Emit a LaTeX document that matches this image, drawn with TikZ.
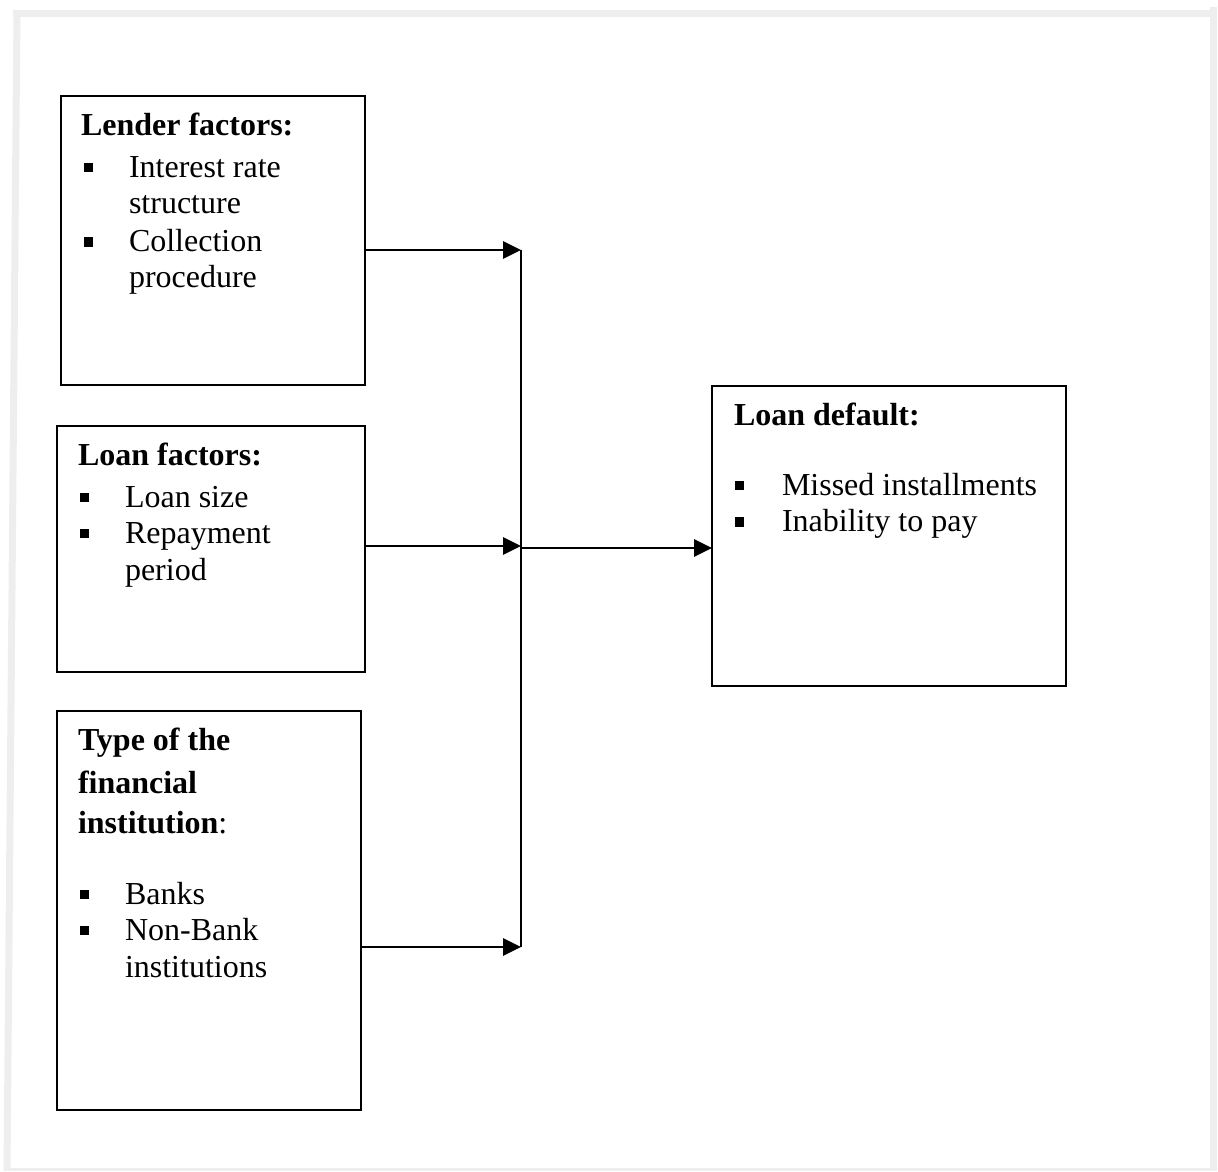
\documentclass[tikz,border=0pt]{standalone}
\usepackage{fontspec}
\setmainfont{Liberation Serif}
\usetikzlibrary{arrows.meta}
\definecolor{framegrey}{RGB}{238,238,238}
\begin{document}
\begin{tikzpicture}[x=1pt,y=-1pt,
  box/.style={draw,line width=2.4pt,inner sep=0pt,outer sep=0pt,anchor=north west},
  txt/.style={anchor=base west,inner sep=0pt,outer sep=0pt,font=\fontsize{32}{37}\selectfont},
  hd/.style={anchor=base west,inner sep=0pt,outer sep=0pt,font=\fontsize{32}{37}\selectfont\bfseries},
  blt/.style={fill,minimum size=9.5pt,inner sep=0pt,outer sep=0pt},
  conn/.style={line width=2.8pt,-{Triangle[length=18pt,width=17pt]}},
  bus/.style={line width=2.4pt},
  framel/.style={draw=framegrey,line width=7pt}]
\useasboundingbox (0,0) rectangle (1218,1171);
% outer grey frame
\draw[framel] (13,13) -- (1213,13);
\draw[framel] (17,10) -- (7,1171);
\draw[framel] (1213,7) -- (1213,1171);
\draw[draw=framegrey,line width=3pt] (7,1169.5) -- (1213,1169.5);
% boxes
\node[box,minimum width=304pt,minimum height=289pt] (lender) at (61,96) {};
\node[box,minimum width=308pt,minimum height=246pt] (loan) at (57,426) {};
\node[box,minimum width=304pt,minimum height=399pt] (type) at (57,711) {};
\node[box,minimum width=354pt,minimum height=300pt] (default) at (712,386) {};
% lender text
\node[hd] (l0) at (81,135.5) {Lender factors:};
\node[blt] (l1b) at (88.5,167.5) {};
\node[txt] (l1) at (129,177) {Interest rate};
\node[txt] (l2) at (129,213) {structure};
\node[blt] (l3b) at (88.5,242) {};
\node[txt] (l3) at (129,251.5) {Collection};
\node[txt] (l4) at (129,287) {procedure};
% loan text
\node[hd] (n0) at (78,465) {Loan factors:};
\node[blt] (n1b) at (84.5,497.5) {};
\node[txt] (n1) at (125,507) {Loan size};
\node[blt] (n2b) at (84.5,533.5) {};
\node[txt] (n2) at (125,543) {Repayment};
\node[txt] (n3) at (125,580) {period};
% type text
\node[hd] (t0) at (78,750) {Type of the};
\node[hd] (t1) at (78,793) {financial};
\node[txt] (t2) at (78,833) {\textbf{institution}:};
\node[blt] (t3b) at (84.5,894.5) {};
\node[txt] (t3) at (125,904) {Banks};
\node[blt] (t4b) at (84.5,930.5) {};
\node[txt] (t4) at (125,940) {Non-Bank};
\node[txt] (t5) at (125,977) {institutions};
% default text
\node[hd] (d0) at (734,425) {Loan default:};
\node[blt] (d1b) at (739.5,485.5) {};
\node[txt] (d1) at (782,495) {Missed installments};
\node[blt] (d2b) at (739.5,522) {};
\node[txt] (d2) at (782,531.5) {Inability to pay};
% connectors
\coordinate (j1) at (521,250);
\coordinate (j2) at (521,546);
\coordinate (j3) at (521,947);
\coordinate (jo) at (521,548);
\draw[bus] (j1) -- (j3);
\draw[conn] (lender.east |- j1) -- (j1);
\draw[conn] (loan.east |- j2) -- (j2);
\draw[conn] (type.east |- j3) -- (j3);
\draw[conn] (jo) -- (default.west |- jo);
\end{tikzpicture}
\end{document}
